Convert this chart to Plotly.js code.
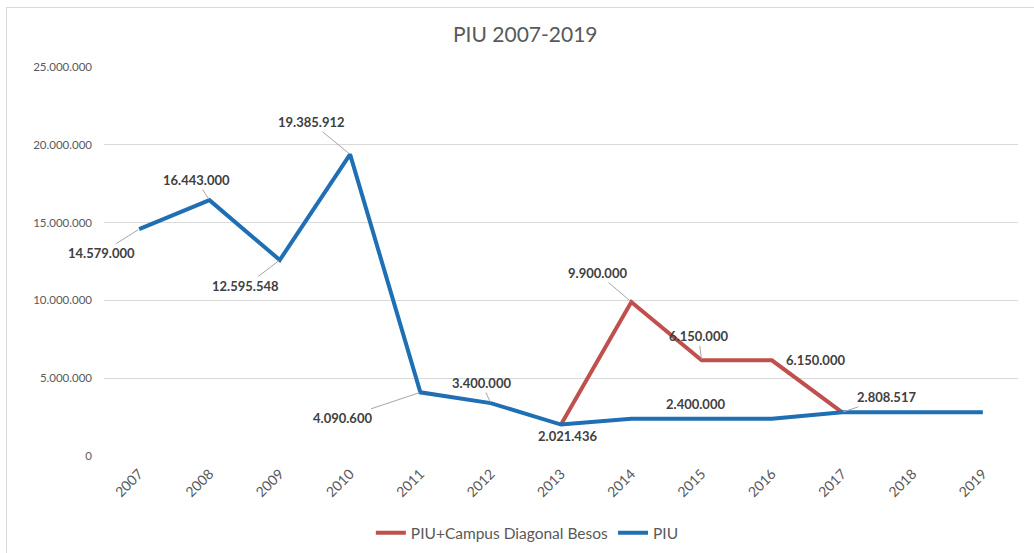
<!DOCTYPE html>
<html><head><meta charset="utf-8">
<script src="https://cdn.plot.ly/plotly-3.0.1.min.js"></script>
<style>
body{margin:0;padding:0;background:#fff;}
#wrap{position:relative;width:1034px;height:553px;overflow:hidden;}
#frame{position:absolute;left:6px;top:7px;width:1040px;height:560px;border-top:1px solid #d9d9d9;border-left:1px solid #d9d9d9;pointer-events:none;}
#chart{position:absolute;left:0;top:0;width:1034px;height:553px;}
</style></head>
<body><div id="wrap"><div id="chart"></div><div id="frame"></div></div>
<script>
const years = ['2007','2008','2009','2010','2011','2012','2013','2014','2015','2016','2017','2018','2019'];
const piu = [14579000,16443000,12595548,19385912,4090600,3400000,2021436,2400000,2400000,2400000,2808517,2808517,2808517];
const piuCampus = [null,null,null,null,null,null,2021436,9900000,6150000,6150000,2808517,null,null];

// data-label placement: [index, ax, ay, leader]
const piuLabels = [[0,-38,24,true],[1,-13,-20,true],[2,-34,26,true],[3,-39,-32,true],[4,-78,26,true],[5,-9,-20,true],[6,6,11,false],[8,-6,-15,false]];
const campusLabels = [[7,-34,-29,true],[8,-3,-24,true],[9,44,0,false],[10,44,-15,true]];

const FONT = 'Lato, "Open Sans", sans-serif';
function fmt(v){return Math.round(v).toString().replace(/\B(?=(\d{3})+(?!\d))/g,'.');}

const annotations = [];
function addLabels(vals, labels){
  labels.forEach(function(l){
    const i=l[0], ax=l[1], ay=l[2], lead=l[3];
    const a = {x: i, y: vals[i], xref:'x', yref:'y', text: '<b>'+fmt(vals[i])+'</b>',
      font:{family:FONT,size:13,color:'#404040'}};
    if(lead){a.showarrow=true;a.arrowhead=0;a.arrowwidth=1;a.arrowcolor='#a6a6a6';a.ax=ax;a.ay=ay;a.standoff=1;}
    else {a.showarrow=false;a.xshift=ax;a.yshift=-ay;}
    annotations.push(a);
  });
}
addLabels(piu, piuLabels);
addLabels(piuCampus, campusLabels);

const traces = [
  {x:years,y:piuCampus,type:'scatter',mode:'lines',name:'PIU+Campus Diagonal Besos',
   line:{color:'#c0504d',width:4},connectgaps:false},
  {x:years,y:piu,type:'scatter',mode:'lines',name:'PIU',line:{color:'#1f6fb5',width:4}}
];

const layout = {
  width:1034,height:553,
  paper_bgcolor:'rgba(0,0,0,0)',plot_bgcolor:'rgba(0,0,0,0)',
  margin:{l:104,r:16,t:67,b:97},
  separators:',.',
  font:{family:FONT,color:'#595959',size:12},
  title:{text:'PIU 2007-2019',font:{family:FONT,size:21,color:'#595959'},x:0.508,xanchor:'center',y:0.937,yanchor:'middle',xref:'container',yref:'container'},
  xaxis:{type:'category',range:[-0.5,12.5],tickangle:-45,showgrid:false,zeroline:false,showline:false,ticks:'',automargin:false,
    ticklabelstandoff:6,tickfont:{family:FONT,size:14,color:'#595959'}},
  yaxis:{range:[0,25000000],dtick:5000000,tickformat:',d',gridcolor:'#d9d9d9',gridwidth:1,zeroline:false,automargin:false,
    showline:false,ticks:'',ticklabelstandoff:11,tickfont:{family:FONT,size:11.5,color:'#595959'}},
  showlegend:true,
  legend:{orientation:'h',xref:'container',x:0.51,xanchor:'center',yref:'container',y:0.036,yanchor:'middle',font:{family:FONT,size:15.5,color:'#595959'}},
  annotations:annotations
};
Plotly.newPlot('chart',traces,layout,{displayModeBar:false,staticPlot:true});
</script></body></html>
